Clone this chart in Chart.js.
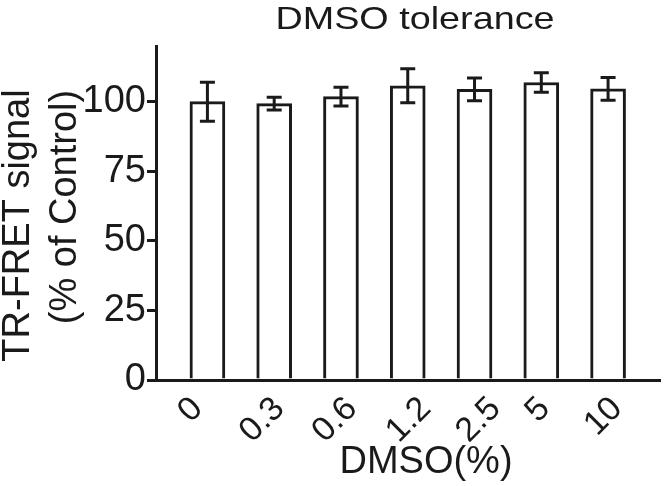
<!DOCTYPE html>
<html>
<head>
<meta charset="utf-8">
<script src="https://cdn.jsdelivr.net/npm/chart.js@4/dist/chart.umd.min.js"></script>
<style>
  html, body { margin: 0; padding: 0; background: #ffffff; }
  #wrap { position: relative; width: 664px; height: 486px; }
</style>
</head>
<body>
<div id="wrap"><canvas id="c" width="664" height="486"></canvas></div>
<script>
// ---- data ----
const categories = ['0', '0.3', '0.6', '1.2', '2.5', '5', '10'];
const signalMean = [100, 99.3, 101.8, 105.7, 104.4, 106.9, 104.6];
const signalErr  = [7.0, 2.3, 3.4, 6.1, 4.1, 3.5, 4.1];
const yTicks = [0, 25, 50, 75, 100];
const chartTitle = 'DMSO tolerance';
const xTitle = 'DMSO(%)';
const yTitle = ['TR-FRET signal', '(% of Control)'];

// ---- style ----
const INK = '#1a1a1a';
const FONT = "'Liberation Sans', Arial, Helvetica, sans-serif";
// small horizontal nudges (px) of the rotated category labels, as in the original figure
const labelNudgePx = [-1, 14, 20, 27, 30, 12.5, 18];
const PX_PER_CATEGORY = 67;

const errorBars = {
  id: 'errorBars',
  afterDatasetsDraw(chart) {
    const ctx = chart.ctx, xs = chart.scales.x, ys = chart.scales.y;
    ctx.save();
    ctx.strokeStyle = INK;
    ctx.lineWidth = 3;
    ctx.lineCap = 'butt';
    signalMean.forEach((m, i) => {
      const x = xs.getPixelForValue(i);
      const yt = ys.getPixelForValue(m + signalErr[i]);
      const yb = ys.getPixelForValue(m - signalErr[i]);
      const hw = 7.5;
      ctx.beginPath();
      ctx.moveTo(x, yt); ctx.lineTo(x, yb);
      ctx.moveTo(x - hw, yt); ctx.lineTo(x + hw, yt);
      ctx.moveTo(x - hw, yb); ctx.lineTo(x + hw, yb);
      ctx.stroke();
    });
    ctx.restore();
  }
};

const titlesDraw = {
  id: 'titlesDraw',
  afterDraw(chart) {
    const ctx = chart.ctx;
    const area = chart.chartArea;
    ctx.save();
    ctx.fillStyle = INK;
    // chart title
    ctx.font = '32px ' + FONT;
    ctx.textAlign = 'center';
    ctx.textBaseline = 'alphabetic';
    ctx.save();
    ctx.translate(area.left + 259, area.top - 17);
    ctx.scale(1.18, 1);
    ctx.fillText(chartTitle, 0, 0);
    ctx.restore();
    // x axis title
    ctx.font = '38px ' + FONT;
    ctx.fillText(xTitle, area.left + 270, area.bottom + 93);
    // y axis title (two lines, rotated)
    ctx.textBaseline = 'middle';
    const yCenters = [area.top + 179.5, area.top + 161];
    const xCenters = [18.5, 66];
    yTitle.forEach((line, k) => {
      ctx.save();
      ctx.translate(xCenters[k], yCenters[k]);
      ctx.rotate(-Math.PI / 2);
      ctx.fillText(line, 0, 0);
      ctx.restore();
    });
    ctx.restore();
  }
};

new Chart(document.getElementById('c'), {
  type: 'bar',
  data: {
    datasets: [{
      data: signalMean.map((v, i) => ({ x: i, y: v })),
      backgroundColor: '#ffffff',
      borderColor: INK,
      borderWidth: 3,
      borderSkipped: 'start',
      barThickness: 35
    }]
  },
  options: {
    responsive: false,
    animation: false,
    devicePixelRatio: 1,
    layout: { padding: { top: 46, right: 2, left: 0, bottom: 0 } },
    plugins: {
      legend: { display: false },
      tooltip: { enabled: false },
      title: { display: false }
    },
    scales: {
      x: {
        type: 'linear',
        offset: false,
        min: -0.77,
        max: 6.78,
        afterBuildTicks(scale) {
          scale.ticks = categories.map((c, i) => ({ value: i + labelNudgePx[i] / PX_PER_CATEGORY }));
        },
        afterFit(scale) { scale.height = 106; },
        grid: { display: false, drawTicks: false, offset: false },
        border: { display: true, color: INK, width: 3 },
        ticks: {
          autoSkip: false,
          maxRotation: 45,
          minRotation: 45,
          padding: 9,
          labelOffset: -9,
          color: INK,
          font: { family: FONT, size: 34 },
          callback: (v) => categories[Math.round(v)]
        },
        title: { display: false }
      },
      y: {
        min: 0,
        max: 120,
        afterBuildTicks(scale) { scale.ticks = yTicks.map(v => ({ value: v })); },
        afterFit(scale) { scale.width = 156; },
        grid: { drawOnChartArea: false, drawTicks: true, tickLength: 9, lineWidth: 3, color: INK },
        border: { display: true, color: INK, width: 3 },
        ticks: {
          padding: 1,
          color: INK,
          font: { family: FONT, size: 38 }
        },
        title: { display: false }
      }
    }
  },
  plugins: [errorBars, titlesDraw]
});
</script>
</body>
</html>
